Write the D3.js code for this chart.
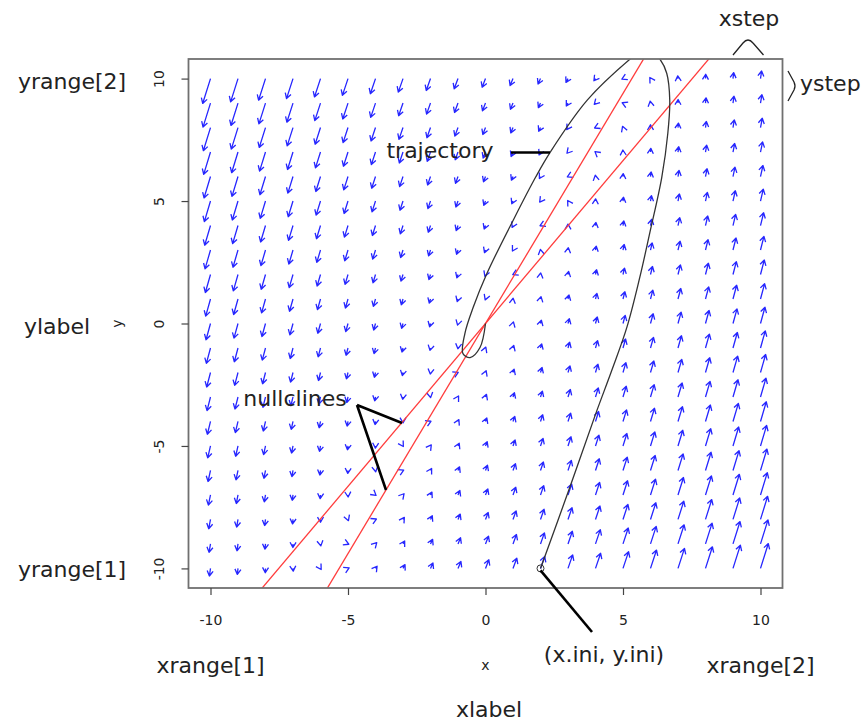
<!DOCTYPE html>
<html>
<head>
<meta charset="utf-8">
<script src="https://cdn.jsdelivr.net/npm/d3@7/dist/d3.min.js"></script>
<style>
  body { margin: 0; background: #fff; }
  text { font-family: "DejaVu Sans", sans-serif; fill: #222; }
</style>
</head>
<body>
<div id="chart"></div>
<script>
// phase plane settings (the names the picture points at)
var xrange = [-10, 10];
var yrange = [-10, 10];
var xstep = 1, ystep = 1;
var xIni = 2, yIni = -10;

// linear model: dx/dt = a*x + b*y , dy/dt = c*x + d*y
var dxCoef = [1.33, -1];
var dyCoef = [5.43, -2.89];
var arrowScale = 0.0122;

var xTicks = [-10, -5, 0, 5, 10];
var yTicks = [-10, -5, 0, 5, 10];

// trajectory
var trajX = [2, 3.06, 4.01, 4.59, 5.14, 5.61, 5.97, 6.41, 6.63, 6.70, 6.59, 6.34, 5.85, 5.26,
             3.70, 2.35, 1.82, 1.04, 0.05, -0.45, -0.75, -0.82, -0.56, -0.2, 0];
var trajY = [-10, -6.71, -3.68, -1.92, -0.16, 1.88, 3.68, 5.97, 7.77, 9.12, 10.22, 10.8, 11.3, 10.8,
             9.12, 6.99, 5.97, 4.29, 2.04, 0.65, -0.41, -1.23, -1.39, -0.98, 0];

var width = 864, height = 725;
var box = {left: 188.5, right: 782.5, top: 59, bottom: 588};

var svg = d3.select("#chart").append("svg")
    .attr("width", width)
    .attr("height", height);

var x = d3.scaleLinear().domain([-10.8, 10.8]).range([box.left, box.right]);
var y = d3.scaleLinear().domain([-10.8, 10.8]).range([box.bottom, box.top]);

svg.append("defs").append("clipPath").attr("id", "plotClip")
    .append("rect")
    .attr("x", box.left).attr("y", box.top)
    .attr("width", box.right - box.left).attr("height", box.bottom - box.top);

var plot = svg.append("g").attr("clip-path", "url(#plotClip)");

// vector field
function f(px, py) {
    return [dxCoef[0] * px + dxCoef[1] * py, dyCoef[0] * px + dyCoef[1] * py];
}
var grid = [];
d3.range(xrange[0], xrange[1] + xstep / 2, xstep).forEach(function (gx) {
    d3.range(yrange[0], yrange[1] + ystep / 2, ystep).forEach(function (gy) {
        var v = f(gx, gy);
        if (v[0] !== 0 || v[1] !== 0) grid.push({x: gx, y: gy, dx: v[0] * arrowScale, dy: v[1] * arrowScale});
    });
});

var headLen = 6, headAng = Math.PI / 6;
plot.append("g").selectAll("path")
    .data(grid)
    .enter().append("path")
    .attr("fill", "none")
    .attr("stroke", "#2626ff")
    .attr("stroke-width", 1.3)
    .attr("stroke-linejoin", "round")
    .attr("d", function (d) {
        var x0 = x(d.x), y0 = y(d.y), x1 = x(d.x + d.dx), y1 = y(d.y + d.dy);
        var a = Math.atan2(y1 - y0, x1 - x0);
        var h1 = [x1 - headLen * Math.cos(a - headAng), y1 - headLen * Math.sin(a - headAng)];
        var h2 = [x1 - headLen * Math.cos(a + headAng), y1 - headLen * Math.sin(a + headAng)];
        return "M" + x0 + "," + y0 + "L" + x1 + "," + y1 +
            "M" + h1[0] + "," + h1[1] + "L" + x1 + "," + y1 + "L" + h2[0] + "," + h2[1];
    });

// nullclines: dx/dt = 0 and dy/dt = 0
var slopes = [-dxCoef[0] / dxCoef[1], -dyCoef[0] / dyCoef[1]];
plot.append("g").selectAll("line")
    .data(slopes)
    .enter().append("line")
    .attr("x1", x(-10.8)).attr("x2", x(10.8))
    .attr("y1", function (s) { return y(-10.8 * s); })
    .attr("y2", function (s) { return y(10.8 * s); })
    .attr("stroke", "#ff3c3c")
    .attr("stroke-width", 1.3);

// trajectory
var traj = trajX.map(function (v, i) { return [v, trajY[i]]; });
plot.append("path")
    .datum(traj)
    .attr("fill", "none")
    .attr("stroke", "#333")
    .attr("stroke-width", 1.3)
    .attr("d", d3.line()
        .x(function (d) { return x(d[0]); })
        .y(function (d) { return y(d[1]); })
        .curve(d3.curveCatmullRom.alpha(0.5)));

svg.append("circle")
    .attr("cx", x(xIni)).attr("cy", y(yIni)).attr("r", 3.5)
    .attr("fill", "none").attr("stroke", "#333").attr("stroke-width", 1);

// box
svg.append("rect")
    .attr("x", box.left).attr("y", box.top)
    .attr("width", box.right - box.left).attr("height", box.bottom - box.top)
    .attr("fill", "none").attr("stroke", "#707070").attr("stroke-width", 1.8);

// axes
var xAxis = svg.append("g")
    .attr("transform", "translate(0," + box.bottom + ")")
    .call(d3.axisBottom(x).tickValues(xTicks).tickSize(7).tickPadding(20)
        .tickFormat(function (d) { return String(d); }));
var yAxis = svg.append("g")
    .attr("transform", "translate(" + box.left + ",0)")
    .call(d3.axisLeft(y).tickValues(yTicks).tickSize(7)
        .tickFormat(function (d) { return String(d); }));
[xAxis, yAxis].forEach(function (g) {
    g.select(".domain").remove();
    g.selectAll(".tick line").attr("stroke", "#444").attr("stroke-width", 1.2);
    g.selectAll("text").style("font-family", '"DejaVu Sans", sans-serif')
        .attr("font-size", 14).attr("fill", "#222");
});
yAxis.selectAll(".tick text")
    .attr("x", null).attr("dy", "0.35em")
    .attr("text-anchor", "middle")
    .attr("transform", "translate(-29,0) rotate(-90)");

svg.append("text").attr("x", x(0)).attr("y", 665).attr("dy", "0.35em")
    .attr("text-anchor", "middle").attr("font-size", 14).text("x");
svg.append("text").attr("transform", "translate(117," + y(0) + ") rotate(-90)")
    .attr("dy", "0.35em").attr("text-anchor", "middle").attr("font-size", 14).text("y");

// annotations
var big = 22;
function label(tx, ty, str, anchor) {
    svg.append("text").attr("x", tx).attr("y", ty).attr("dy", "0.35em")
        .attr("text-anchor", anchor || "middle").attr("font-size", big).text(str);
}
label(72, 81, "yrange[2]");
label(72, 569, "yrange[1]");
label(57, 326, "ylabel");
label(x(xrange[0]), 665, "xrange[1]");
label(x(xrange[1]), 665, "xrange[2]");
label(489, 709, "xlabel");
label(604, 654, "(x.ini, y.ini)");
label(440, 150, "trajectory");
label(295, 398, "nullclines");
label(749, 18, "xstep");
label(800, 83, "ystep", "start");

var pointer = svg.append("g").attr("fill", "none").attr("stroke", "#000").attr("stroke-width", 2.6);
pointer.append("path").attr("d", "M511,152.5L550,152.5");
pointer.append("path").attr("d", "M357,405L402,423M357,405L386,490");
pointer.append("path").attr("d", "M" + x(xIni) + "," + (y(yIni) + 2) + "L592,632");

var brace = svg.append("g").attr("fill", "none").attr("stroke", "#222").attr("stroke-width", 1.3);
brace.append("path").attr("d", "M" + x(9) + ",55L743,43Q748,37 753,43L" + (x(10) + 3) + ",55");
brace.append("path").attr("d", "M788,71L794,82Q796,86 794,90L788,101");
</script>
</body>
</html>
